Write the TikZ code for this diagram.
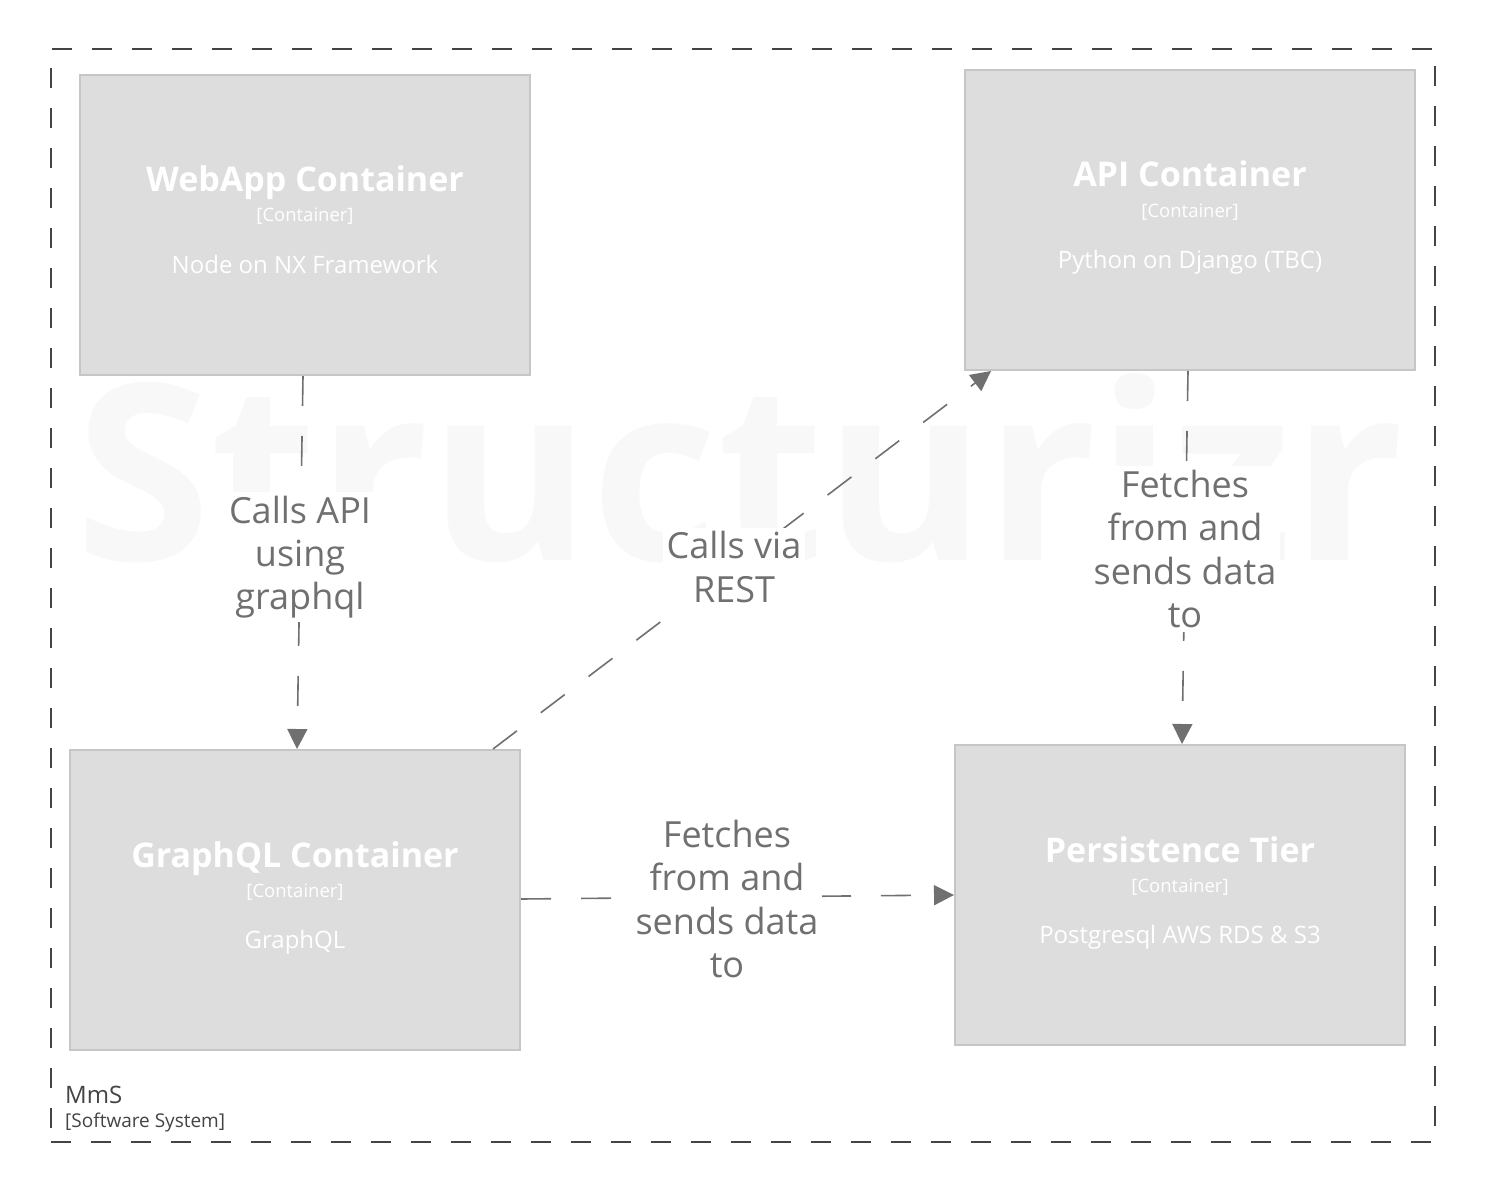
\documentclass[tikz,border=0pt]{standalone}
\usepackage{fontspec}
\setmainfont{Open Sans}
\usetikzlibrary{arrows.meta,calc}
\definecolor{boxfill}{HTML}{DDDDDD}
\definecolor{boxline}{HTML}{C6C6C6}
\definecolor{conn}{HTML}{707070}
\definecolor{bound}{HTML}{444444}
\definecolor{wm}{HTML}{F8F8F8}
\tikzset{
  cbox/.style={rectangle, draw=boxline, fill=boxfill, line width=2pt, minimum width=450pt, minimum height=300pt, inner sep=0pt},
  ctitle/.style={text=white, font=\fontsize{34}{40}\selectfont\bfseries, inner sep=0pt, anchor=base},
  ctype/.style={text=white, font=\fontsize{18.5}{22}\selectfont, inner sep=0pt, anchor=base},
  cdesc/.style={text=white, font=\fontsize{24}{28}\selectfont, inner sep=0pt, anchor=base},
  rel/.style={draw=conn, line width=1.6pt, dash pattern=on 30pt off 30pt, -{Triangle[width=20pt,length=20pt]}},
  rlabel/.style={text=conn, fill=white, align=center, font=\fontsize{36}{43.2}\selectfont, inner sep=4pt},
}
\begin{document}
\begin{tikzpicture}[x=1pt,y=-1pt]
\useasboundingbox (0,0) rectangle (1485,1193);
\fill[white] (0,0) rectangle (1485,1193);
% watermark
\node[text=wm, font=\fontsize{246}{252}\selectfont\bfseries, inner sep=0pt] (wmark) at (740,468) {Structurizr};
% boundary
\node[draw=bound, dash pattern=on 20pt off 20pt, line width=2pt, minimum width=1384pt, minimum height=1093pt, inner sep=0pt] (sys) at (743,595.5) {};
\node[anchor=base west, text=bound, font=\fontsize{24}{28}\selectfont, inner sep=0pt] (sysname) at (65,1103) {MmS};
\node[anchor=base west, text=bound, font=\fontsize{19}{22}\selectfont, inner sep=0pt] (systype) at (65,1127) {[Software System]};
% boxes
\node[cbox] (web) at (305,225) {};
\node[cbox] (api) at (1190,220) {};
\node[cbox] (gql) at (295,900) {};
\node[cbox] (per) at (1180,895) {};
% box texts
\node[ctitle] (webt) at ($(web.center)+(0,-33)$) {WebApp Container};
\node[ctype] (webc) at ($(web.center)+(0,-3)$) {[Container]};
\node[cdesc] (webd) at ($(web.center)+(0,48.5)$) {Node on NX Framework};
\node[ctitle] (apit) at ($(api.center)+(0,-33)$) {API Container};
\node[ctype] (apic) at ($(api.center)+(0,-3)$) {[Container]};
\node[cdesc] (apid) at ($(api.center)+(0,48.5)$) {Python on Django (TBC)};
\node[ctitle] (gqlt) at ($(gql.center)+(0,-33)$) {GraphQL Container};
\node[ctype] (gqlc) at ($(gql.center)+(0,-3)$) {[Container]};
\node[cdesc] (gqld) at ($(gql.center)+(0,48.5)$) {GraphQL};
\node[ctitle] (pert) at ($(per.center)+(0,-33)$) {Persistence Tier};
\node[ctype] (perc) at ($(per.center)+(0,-3)$) {[Container]};
\node[cdesc] (perd) at ($(per.center)+(0,48.5)$) {Postgresql AWS RDS \& S3};
% connectors
\draw[rel] ($(web.south)+(-2,0)$) -- ($(gql.north)+(2,0)$);
\draw[rel] ($(gql.north east)+(-28,0)$) -- ($(api.south west)+(27,0)$);
\draw[rel] ($(api.south)+(-2,0)$) -- ($(per.north)+(2,0)$);
\draw[rel] ($(gql.east)+(0,-1)$) -- (per.west);
% labels
\node[rlabel] (l1) at (300,557) {Calls API\\using\\graphql};
\node[rlabel] (l2) at (734,567) {Calls via\\REST};
\node[rlabel] (l3) at (1185,549) {Fetches\\from and\\sends data\\to};
\node[rlabel] (l4) at (727,899) {Fetches\\from and\\sends data\\to};
\end{tikzpicture}
\end{document}
